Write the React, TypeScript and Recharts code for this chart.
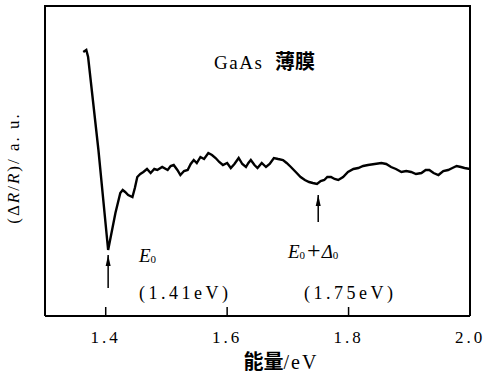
import React from "react";
import {
  LineChart,
  Line,
  XAxis,
  YAxis,
  ReferenceLine,
  ReferenceDot,
} from "recharts";

// photon energy (eV) and reflectance signal (a.u.)
const energy = [
  1.363, 1.368, 1.371, 1.388, 1.404, 1.416, 1.424, 1.428, 1.432, 1.437, 1.444,
  1.448, 1.452, 1.457, 1.462, 1.468, 1.474, 1.48, 1.485, 1.493, 1.502, 1.507,
  1.512, 1.518, 1.523, 1.529, 1.535, 1.54, 1.545, 1.55, 1.556, 1.562, 1.569,
  1.575, 1.581, 1.587, 1.593, 1.6, 1.606, 1.612, 1.619, 1.625, 1.631, 1.635,
  1.639, 1.645, 1.65, 1.657, 1.664, 1.67, 1.677, 1.684, 1.692, 1.698, 1.705,
  1.713, 1.721, 1.728, 1.735, 1.741, 1.748, 1.754, 1.76, 1.765, 1.771, 1.777,
  1.783, 1.791, 1.799, 1.808, 1.816, 1.824, 1.832, 1.843, 1.854, 1.862, 1.87,
  1.878, 1.887, 1.895, 1.903, 1.911, 1.92, 1.927, 1.933, 1.94, 1.948, 1.956,
  1.964, 1.971, 1.978, 1.985, 1.991, 2.0,
];
const signal = [
  264, 266, 259, 166, 66, 103, 123, 126, 124, 121, 119, 128, 139, 142, 144,
  147, 143, 147, 146, 149, 146, 150, 151, 146, 141, 145, 146, 152, 156, 153,
  159, 157, 163, 161, 158, 154, 151, 153, 148, 152, 158, 152, 149, 153, 156,
  151, 148, 153, 149, 152, 158, 157, 156, 153, 149, 144, 139, 136, 134, 133,
  132, 135, 136, 139, 139, 137, 136, 139, 144, 147, 148, 150, 151, 152, 153,
  152, 149, 147, 144, 145, 144, 142, 143, 146, 146, 143, 141, 145, 146, 148,
  150, 149, 148, 147,
];
const xTicks = [1.4, 1.6, 1.8, 2.0];

// plot frame limits
const xMin = 1.3;
const xMax = 2.0;
const yMin = 0;
const yMax = 311;

// arrows marking the critical points
const arrowX = [1.404, 1.75];
const arrowFrom = [28, 94];
const arrowTo = [61, 121];

const data = energy.map((e, i) => ({ e, v: signal[i] }));

const serif = "'Liberation Serif', 'DejaVu Serif', serif";
const cjk = "'Noto Sans CJK SC'";

const W = 486;
const H = 375;
const margin = { top: 5, right: 16, bottom: 29, left: 45 };
const axisH = 30;

const ArrowHead = (props: any) => {
  const { cx, cy } = props;
  return (
    <path
      d={`M${cx},${cy} L${cx - 2.5},${cy + 11} L${cx + 2.5},${cy + 11} Z`}
      fill="#000"
    />
  );
};

export default function App() {
  return (
    <div
      style={{
        position: "absolute",
        left: 0,
        top: 0,
        width: W,
        height: H,
        background: "#fff",
        fontFamily: serif,
      }}
    >
      <LineChart width={W} height={H} data={data} margin={margin}>
        <XAxis
          dataKey="e"
          type="number"
          domain={[xMin, xMax]}
          ticks={xTicks}
          tickFormatter={(v: number) => v.toFixed(1)}
          height={axisH}
          axisLine={{ stroke: "#000", strokeWidth: 2 }}
          tickSize={-9}
          tickMargin={24}
          tickLine={{ stroke: "#000", strokeWidth: 1.5 }}
          tick={{ fill: "#000", fontSize: 17, letterSpacing: 3 }}
          allowDataOverflow
        />
        <YAxis type="number" domain={[yMin, yMax]} hide allowDataOverflow />
        <ReferenceLine x={xMin} stroke="#000" strokeWidth={2} ifOverflow="visible" />
        <ReferenceLine x={xMax} stroke="#000" strokeWidth={2} ifOverflow="visible" />
        {arrowX.map((x, i) => (
          <ReferenceLine
            key={"a" + i}
            segment={[
              { x, y: arrowFrom[i] },
              { x, y: arrowTo[i] },
            ]}
            stroke="#000"
            strokeWidth={1.5}
          />
        ))}
        {arrowX.map((x, i) => (
          <ReferenceDot
            key={"h" + i}
            x={x}
            y={arrowTo[i]}
            r={3}
            shape={<ArrowHead />}
          />
        ))}
        <Line
          dataKey="v"
          type="linear"
          stroke="#000"
          strokeWidth={2.4}
          dot={false}
          isAnimationActive={false}
        />
      </LineChart>
      <svg
        width={W}
        height={H}
        style={{ position: "absolute", left: 0, top: 0, pointerEvents: "none", fontFamily: serif }}
      >
        {/* top edge of the plot frame */}
        <line
          x1={margin.left - 1}
          x2={W - margin.right + 1}
          y1={margin.top + 1}
          y2={margin.top + 1}
          stroke="#000"
          strokeWidth={2}
        />
        <text x={214} y={69} fontSize={19} fill="#000" letterSpacing={1.5}>
          GaAs
        </text>
        <text x={275} y={69} fontSize={20} fill="#000" fontWeight={700} style={{ fontFamily: cjk }}>
          薄膜
        </text>
        <text x={139} y={262} fontSize={19} fontStyle="italic" fill="#000">
          E<tspan fontSize={11} fontStyle="normal" dy={1}>0</tspan>
        </text>
        <text x={139} y={299} fontSize={18} fill="#000" letterSpacing={3.5}>
          (1.41eV)
        </text>
        <text x={288} y={258} fontSize={19} fill="#000">
          <tspan fontStyle="italic">E</tspan>
          <tspan fontSize={11} dy={1}>0</tspan>
          <tspan dy={-1} dx={2} fontSize={24}>+</tspan>
          <tspan fontStyle="italic" dx={1}>Δ</tspan>
          <tspan fontSize={11} dy={1}>0</tspan>
        </text>
        <text x={304} y={299} fontSize={18} fill="#000" letterSpacing={3.5}>
          (1.75eV)
        </text>
        <text x={281} y={369} textAnchor="middle" fontSize={20} fill="#000">
          <tspan style={{ fontFamily: cjk }} fontWeight={700}>能量</tspan>
          <tspan letterSpacing={2}>/eV</tspan>
        </text>
        <text
          transform={`translate(19,${H - margin.bottom - axisH - 148}) rotate(-90)`}
          textAnchor="middle"
          fontSize={17}
          fill="#000"
          letterSpacing={2}
        >
          (Δ<tspan fontStyle="italic">R</tspan>/<tspan fontStyle="italic">R</tspan>)/ a. u.
        </text>
      </svg>
    </div>
  );
}
